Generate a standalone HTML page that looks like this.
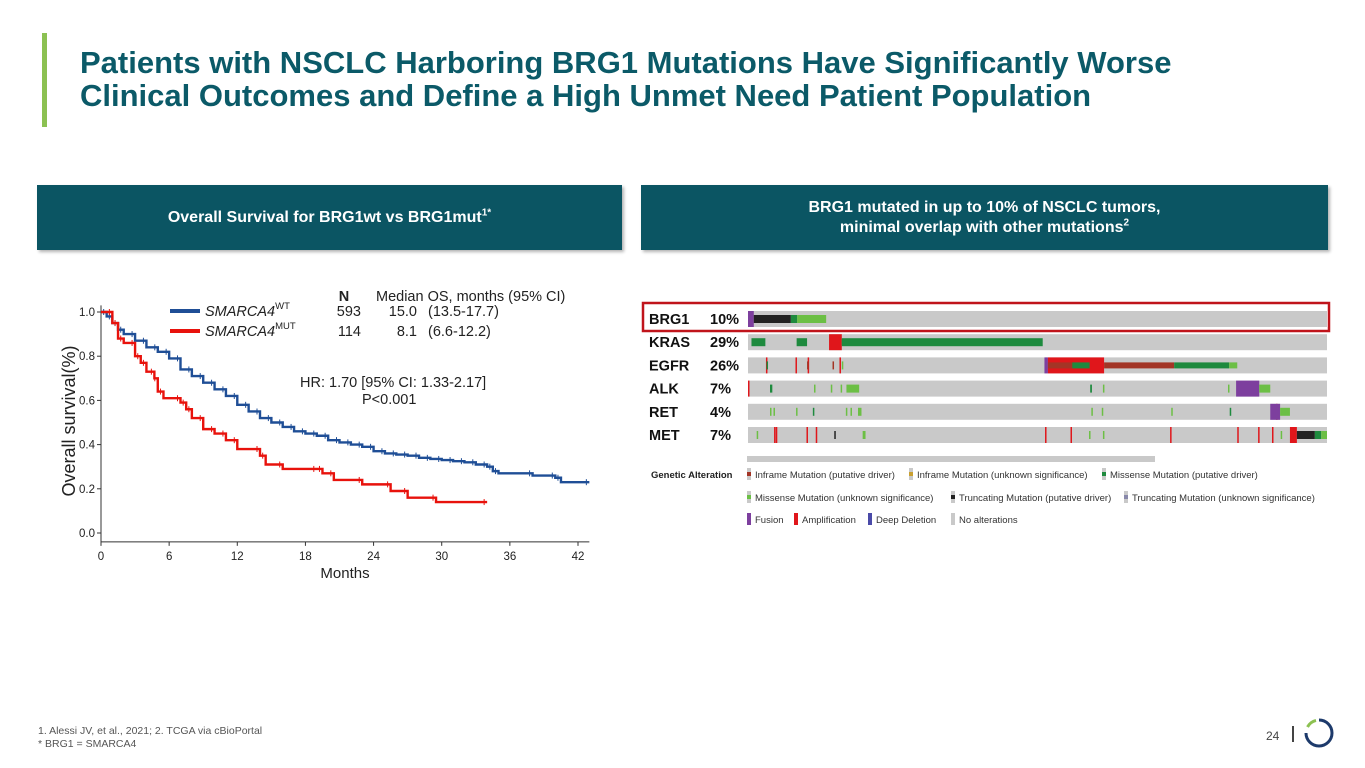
<!DOCTYPE html>
<html><head><meta charset="utf-8">
<style>
body{margin:0;width:1365px;height:768px;background:#fff;position:relative;overflow:hidden;font-family:"Liberation Sans",Arial,sans-serif}
.abs{position:absolute}
.title{left:80px;top:46px;font-size:31px;font-weight:bold;color:#0b5a68;line-height:33px;white-space:nowrap}
.hdr{background:#0b5563;color:#fff;font-weight:bold;font-size:16px;text-align:center;box-shadow:2px 2px 3px rgba(0,0,0,.3);display:flex;align-items:center;justify-content:center;line-height:20px}
.hdr sup{font-size:10px;line-height:0;vertical-align:super}
</style></head><body>
<div class="abs" style="left:42px;top:33px;width:5px;height:94px;background:#8cc152"></div>
<div class="abs title">Patients with NSCLC Harboring BRG1 Mutations Have Significantly Worse<br>Clinical Outcomes and Define a High Unmet Need Patient Population</div>
<div class="abs hdr" style="left:37px;top:185px;width:585px;height:65px"><span>Overall Survival for BRG1wt vs BRG1mut<sup>1*</sup></span></div>
<div class="abs hdr" style="left:641px;top:185px;width:687px;height:65px"><span>BRG1 mutated in up to 10% of NSCLC tumors,<br>minimal overlap with other mutations<sup>2</sup></span></div>

<svg class="abs" style="left:0;top:0" width="1365" height="768">
<g id="km"></g>
<g id="onco"></g>
</svg>

<div class="abs" style="left:38px;top:725px;font-size:10.5px;color:#555;line-height:13px">1. Alessi JV, et al., 2021; 2. TCGA via cBioPortal<br>* BRG1 = SMARCA4</div>
<div class="abs" style="left:1266px;top:729px;font-size:12px;color:#444">24</div>
<div class="abs" style="left:1292px;top:726px;width:1.5px;height:16px;background:#444"></div>
<svg class="abs" style="left:1302px;top:716px" width="34" height="34">
<path d="M17 4 A13 13 0 1 1 4 17" fill="none" stroke="#1d3a6b" stroke-width="3"/>
<path d="M5.5 11 A13 13 0 0 1 14 4.4" fill="none" stroke="#8cc152" stroke-width="3"/>
</svg>

<script>
const NS="http://www.w3.org/2000/svg";
// KM data
const xTicks=[0,6,12,18,24,30,36,42];
const yTicks=[0.0,0.2,0.4,0.6,0.8,1.0];
const wtMonths=[0,0.5,1,1.5,2,3,4,5,6,7,8,9,10,11,12,13,14,15,16,17,18,19,20,21,22,23,24,25,26,27,28,29,30,31,32,33,34,34.5,35,38,40,40.5,43];
const wtSurv=[1.0,0.98,0.95,0.92,0.9,0.87,0.84,0.82,0.79,0.74,0.71,0.68,0.65,0.62,0.58,0.55,0.52,0.5,0.48,0.46,0.45,0.44,0.42,0.41,0.40,0.39,0.37,0.36,0.355,0.35,0.34,0.335,0.33,0.325,0.32,0.31,0.30,0.28,0.27,0.26,0.25,0.23,0.23];
const mutMonths=[0,1,1.5,2,3,3.5,4,4.7,5,5.5,7,7.5,8,9,10,11,12,14,14.5,16,19,19.5,20.5,23,25.5,27,29.5,34];
const mutSurv=[1.0,0.95,0.88,0.86,0.8,0.77,0.73,0.70,0.64,0.61,0.59,0.56,0.52,0.47,0.45,0.42,0.38,0.35,0.31,0.29,0.29,0.27,0.24,0.22,0.19,0.16,0.14,0.14];
const X=m=>101+m*(477/42), Y=s=>533-s*221;
const km=document.getElementById('km');
function el(tag,attrs,parent,text){const e=document.createElementNS(NS,tag);for(const k in attrs)e.setAttribute(k,attrs[k]);if(text!==undefined)e.textContent=text;parent.appendChild(e);return e;}
let ax=el('path',{d:`M${X(0)} ${Y(1.03)}V${Y(-0.04)}H${X(43)}`,stroke:'#333',fill:'none','stroke-width':1},km);


xTicks.forEach(t=>{el('line',{x1:X(t),x2:X(t),y1:Y(-0.04),y2:Y(-0.04)+4,stroke:'#333'},km);
 const tx=el('text',{x:X(t),y:560,'font-size':11.5,'text-anchor':'middle',fill:'#222'},km,String(t));
 
 });
yTicks.forEach(t=>{el('line',{x1:X(0)-4,x2:X(0),y1:Y(t),y2:Y(t),stroke:'#333'},km);
 const ty=el('text',{x:X(0)-6,y:Y(t)+4,'font-size':11.5,'text-anchor':'end',fill:'#222'},km,t.toFixed(1));
 
 });
let xt=el('text',{x:345,y:578,'font-size':15,'text-anchor':'middle',fill:'#222'},km,'Months');


let yt=el('text',{x:0,y:0,'font-size':18,'text-anchor':'middle',fill:'#222',transform:'translate(75 421) rotate(-90)'},km,'Overall survival(%)');


function step(ms,ss,color,name){let d=`M${X(ms[0])} ${Y(ss[0])}`;for(let i=1;i<ms.length;i++){d+=`H${X(ms[i])}V${Y(ss[i])}`;}
 const p=el('path',{d,stroke:color,fill:'none','stroke-width':2.4},km);
 
 
 for(let i=1;i<ms.length;i++){const x=X(ms[i])-3;el('line',{x1:x,x2:x,y1:Y(ss[i-1])-3,y2:Y(ss[i-1])+3,stroke:color,'stroke-width':1},km);}}
step(wtMonths,wtSurv,'#1f4e96','wt-curve');
step(mutMonths,mutSurv,'#e8120c','mut-curve');
// legend
[['#1f4e96','WT','593','15.0','(13.5-17.7)',316],['#e8120c','MUT','114','8.1','(6.6-12.2)',336]].forEach(r=>{
 const g=el('g',{},km);
 
 
 el('line',{x1:170,x2:200,y1:r[5]-5,y2:r[5]-5,stroke:r[0],'stroke-width':4},g);
 const t=el('text',{x:205,y:r[5],'font-size':14.5,'font-style':'italic',fill:'#222'},g,'SMARCA4');
 el('tspan',{'font-size':9.5,dy:-7,'font-style':'normal'},t,r[1]);
 el('text',{x:361,y:r[5],'font-size':14.5,'text-anchor':'end',fill:'#222'},g,r[2]);
 el('text',{x:417,y:r[5],'font-size':14.5,'text-anchor':'end',fill:'#222'},g,r[3]);
 el('text',{x:428,y:r[5],'font-size':14.5,fill:'#222'},g,r[4]);});
el('text',{x:344,y:301,'font-size':14.5,'text-anchor':'middle','font-weight':'bold',fill:'#222'},km,'N');
el('text',{x:376,y:301,'font-size':14.5,fill:'#222'},km,'Median OS, months (95% CI)');
el('text',{x:300,y:387,'font-size':14.5,fill:'#222'},km,'HR: 1.70 [95% CI: 1.33-2.17]');
el('text',{x:362,y:404,'font-size':14.5,fill:'#222'},km,'P<0.001');

// Oncoprint
const genes=['BRG1','KRAS','EGFR','ALK','RET','MET'];
const pcts=['10%','29%','26%','7%','4%','7%'];
const C={pur:'#7d3f9e',blk:'#222',dg:'#1e8a3e',lg:'#6cbf45',red:'#e0161b',br:'#a33526',blu:'#4a4aa8'};
const segs=[[0,0,10,'pur'],[0,10,74,'blk'],[0,74,85,'dg'],[0,85,135,'lg'],
[1,6,30,'dg'],[1,84,102,'dg'],[1,140,162,'red'],[1,162,170,'dg',1],[1,162,509,'dg'],
[2,512,518,'pur'],[2,518,615,'red'],[2,518,560,'br',1],[2,560,590,'dg',1],[2,615,736,'br',1],[2,736,831,'dg',1],[2,831,845,'lg',1],
[3,38,42,'dg'],[3,170,192,'lg'],[3,591,594,'dg'],[3,843,883,'pur'],[3,883,902,'lg'],
[4,190,196,'lg'],[4,902,919,'pur'],[4,919,936,'lg'],
[5,936,948,'red'],[5,948,979,'blk'],[5,979,990,'dg'],[5,990,1000,'lg'],[5,198,203,'lg']];
const ticks=[[2,31,'red'],[2,82,'red'],[2,103,'red'],[2,158,'red'],[2,32,'dg'],[2,102,'br'],[2,146,'br'],[2,162,'lg'],
[3,0,'red'],[3,114,'lg'],[3,143,'lg'],[3,160,'lg'],[3,613,'lg'],[3,829,'lg'],
[4,38,'lg'],[4,44,'lg'],[4,83,'lg'],[4,112,'dg'],[4,169,'lg'],[4,177,'lg'],[4,593,'lg'],[4,611,'lg'],[4,731,'lg'],[4,832,'dg'],[4,912,'red'],
[5,15,'lg'],[5,45,'red'],[5,48,'red'],[5,101,'red'],[5,117,'red'],[5,149,'blk'],[5,513,'red'],[5,557,'red'],[5,729,'red'],[5,845,'red'],[5,881,'red'],[5,905,'red'],[5,920,'lg'],[5,589,'lg'],[5,613,'lg']];
const oc=document.getElementById('onco');
const TX0=748,TX1=1327,TX=v=>TX0+v*(TX1-TX0)/1000;
const RY=i=>311+i*23.2;
genes.forEach((g,i)=>{
 const r=el('rect',{x:TX0,y:RY(i),width:TX1-TX0,height:16,fill:'#c9c9c9'},oc);
 
 
 const t=el('text',{x:649,y:RY(i)+13,'font-size':14.5,'font-weight':'bold',fill:'#111'},oc,g);
 
 
 const p=el('text',{x:710,y:RY(i)+13,'font-size':14.5,'font-weight':'bold',fill:'#111'},oc,pcts[i]);
 
 });
ticks.forEach(t=>{el('rect',{x:TX(t[1]),y:RY(t[0])+(t[2]=='red'?0:4),width:1.5,height:t[2]=='red'?16:8,fill:C[t[2]]},oc);});
segs.forEach(s=>{const thin=s[4];el('rect',{x:TX(s[1]),y:RY(s[0])+(s[3]=='red'||s[3]=='pur'&&!thin?0:(thin?5:4)),width:TX(s[2])-TX(s[1]),height:s[3]=='red'||s[3]=='pur'?16:(thin?6:8),fill:C[s[3]]},oc);});
let box=el('rect',{x:643,y:303,width:686,height:28,fill:'none',stroke:'#c0141b','stroke-width':2.5},oc);


el('rect',{x:747,y:456,width:408,height:6,fill:'#c9c9c9'},oc);
el('text',{x:651,y:478,'font-size':9.5,'font-weight':'bold',fill:'#222'},oc,'Genetic Alteration');
const legItems=[['br','Inframe Mutation (putative driver)',747,478],['#c9a030','Inframe Mutation (unknown significance)',909,478],['dg','Missense Mutation (putative driver)',1102,478],
['lg','Missense Mutation (unknown significance)',747,501],['blk','Truncating Mutation (putative driver)',951,501],['#8888aa','Truncating Mutation (unknown significance)',1124,501],
['pur','Fusion',747,523],['red','Amplification',794,523],['blu','Deep Deletion',868,523],['#c9c9c9','No alterations',951,523]];
legItems.forEach(l=>{const g=el('g',{},oc);
 
 
 const full=['pur','red','blu','#c9c9c9'].includes(l[0]);
 el('rect',{x:l[2],y:l[3]-10,width:4,height:12,fill:'#c9c9c9'},g);
 el('rect',{x:l[2],y:full?l[3]-10:l[3]-6,width:4,height:full?12:4,fill:C[l[0]]||l[0]},g);
 el('text',{x:l[2]+8,y:l[3],'font-size':9.5,fill:'#333'},g,l[1]);});
</script>
</body></html>
